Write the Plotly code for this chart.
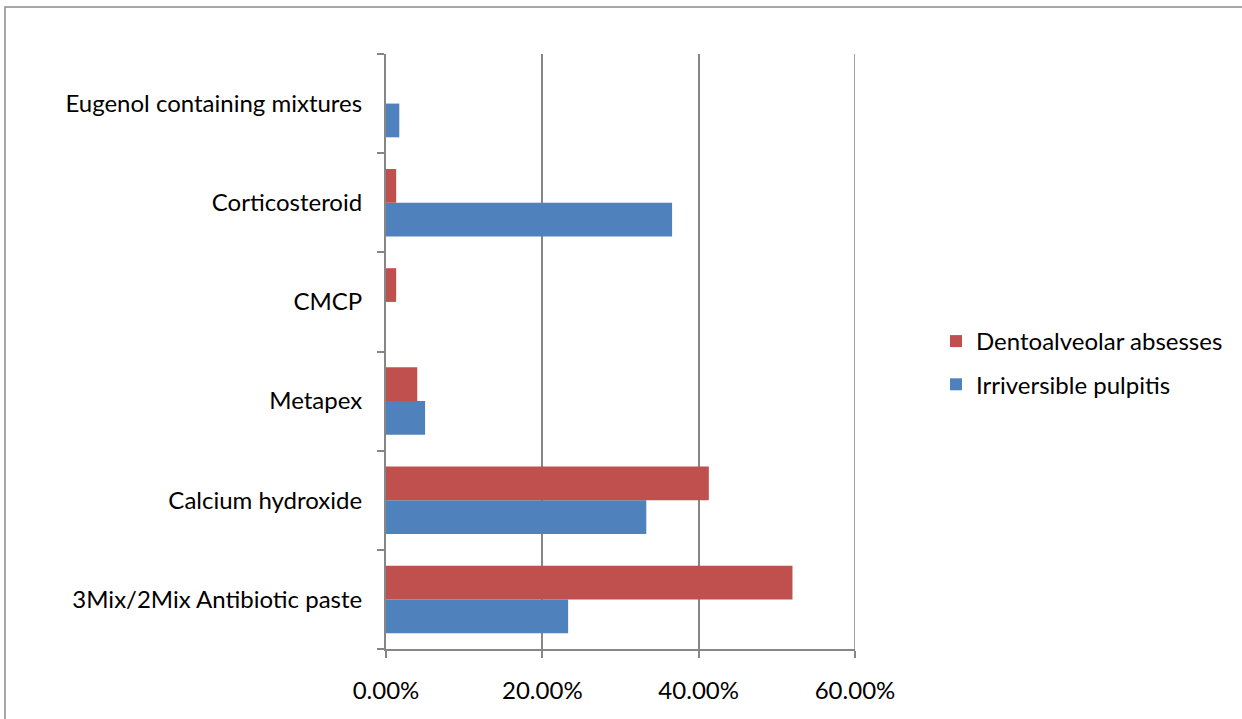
import plotly.graph_objects as go

categories = [
    "3Mix/2Mix Antibiotic paste",
    "Calcium hydroxide",
    "Metapex",
    "CMCP",
    "Corticosteroid",
    "Eugenol containing mixtures",
]
pulpitis = [0.233, 0.333, 0.050, 0.0, 0.366, 0.017]
abscesses = [0.520, 0.413, 0.040, 0.013, 0.013, 0.0]
x_ticks = [0.0, 0.2, 0.4, 0.6]

W, H = 1242, 719
ML, MR, MT, MB = 386, 387, 54, 70
pw, ph = W - ML - MR, H - MT - MB

FONT = "Lato, 'Open Sans', sans-serif"
FS = 24
AXIS_GRAY = "#868686"

fig = go.Figure()
fig.add_trace(go.Bar(
    y=categories, x=pulpitis, orientation="h", legendgroup="p", legendrank=2,
    name="Irriversible pulpitis", marker=dict(color="#4F81BD", line=dict(width=0)),
))
fig.add_trace(go.Bar(
    y=categories, x=abscesses, orientation="h", legendgroup="a", legendrank=1,
    name="Dentoalveolar absesses", marker=dict(color="#C0504D", line=dict(width=0)),
))

def px_to_paper_x(px):
    return (px - ML) / pw

def px_to_paper_y(py):
    return (H - MB - py) / ph

# outer frame around the chart area
fig.add_shape(
    type="rect", xref="paper", yref="paper",
    x0=px_to_paper_x(5), x1=px_to_paper_x(W + 20),
    y0=px_to_paper_y(H + 20), y1=px_to_paper_y(7),
    line=dict(color="#8C8C8C", width=1.5), fillcolor="rgba(0,0,0,0)", layer="above",
)
# gridline at the right edge of the value axis
fig.add_shape(
    type="line", xref="x", yref="paper",
    x0=x_ticks[-1], x1=x_ticks[-1], y0=0, y1=1,
    line=dict(color=AXIS_GRAY, width=1.5), layer="below",
)

fig.update_layout(
    width=W, height=H,
    margin=dict(l=ML, r=MR, t=MT, b=MB, pad=0),
    paper_bgcolor="white", plot_bgcolor="white",
    barmode="group", bargap=0.32, bargroupgap=0,
    font=dict(family=FONT, size=FS, color="#000000"),
    showlegend=True,
    legend=dict(
        x=px_to_paper_x(936), y=px_to_paper_y(319), xanchor="left", yanchor="top",
        traceorder="grouped", font=dict(size=FS, family=FONT),
        bgcolor="rgba(0,0,0,0)", itemsizing="constant", tracegroupgap=9,
    ),
    xaxis=dict(
        range=[0, 0.6], tickvals=x_ticks, tickformat=".2%",
        showgrid=True, gridcolor=AXIS_GRAY, gridwidth=1.5,
        zeroline=False, showline=True, linecolor=AXIS_GRAY, linewidth=2,
        ticks="outside", ticklen=7, tickcolor=AXIS_GRAY, tickwidth=2,
        tickfont=dict(size=FS, family=FONT), ticklabelstandoff=12, fixedrange=True,
    ),
    yaxis=dict(
        categoryorder="array", categoryarray=categories,
        showgrid=False, zeroline=False, showline=True, linecolor=AXIS_GRAY, linewidth=2,
        ticks="outside", ticklen=7, tickcolor=AXIS_GRAY, tickwidth=2,
        tickson="boundaries", tickfont=dict(size=FS, family=FONT),
        ticklabelstandoff=17, fixedrange=True,
    ),
)

fig.write_html("out.html")
